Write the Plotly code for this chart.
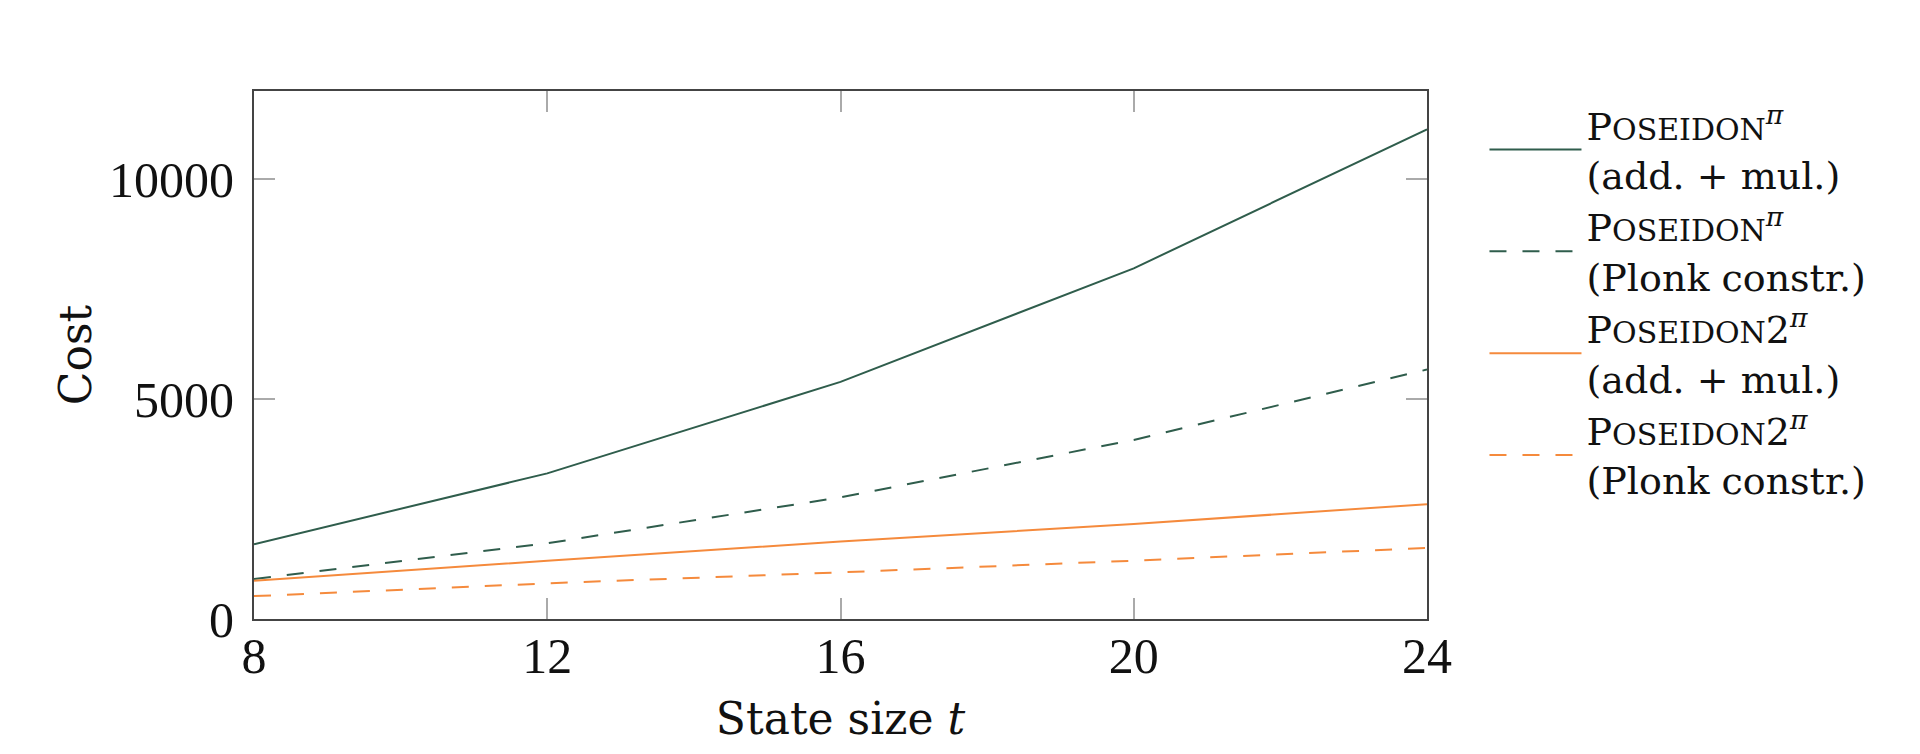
import plotly.graph_objects as go

t = [8, 12, 16, 20, 24]
pos_addmul = [1700, 3310, 5390, 7970, 11130]
pos_plonk = [910, 1720, 2765, 4070, 5670]
pos2_addmul = [870, 1325, 1760, 2160, 2610]
pos2_plonk = [520, 810, 1060, 1326, 1615]

x_ticks = [8, 12, 16, 20, 24]
y_ticks = [0, 5000, 10000]
y_labels = ["0", "5000", "10000"]

GREEN = "#2F5D4C"
ORANGE = "#F58A3C"
SC = "<span style='font-size:30px'>OSEIDON</span>"
names = [
    "P" + SC + "<sup><i>π</i></sup><br>(add. + mul.)",
    "P" + SC + "<sup><i>π</i></sup><br>(Plonk constr.)",
    "P" + SC + "2<sup><i>π</i></sup><br>(add. + mul.)",
    "P" + SC + "2<sup><i>π</i></sup><br>(Plonk constr.)",
]
series = [pos_addmul, pos_plonk, pos2_addmul, pos2_plonk]
colors = [GREEN, GREEN, ORANGE, ORANGE]
dashes = ["solid", "17px,16px", "solid", "17px,16px"]

fig = go.Figure()
for i in range(4):
    fig.add_trace(go.Scatter(
        x=t, y=series[i], mode="lines", name=names[i],
        line=dict(color=colors[i], width=2, dash=dashes[i]),
        legendgroup=str(i),
    ))

axis_common = dict(
    showline=True, linecolor="#444444", linewidth=2, mirror="ticks",
    ticks="inside", ticklen=21, tickwidth=2, tickcolor="#AAAAAA",
    showgrid=False, zeroline=False,
    tickfont=dict(family="Liberation Serif", size=50, color="#111111"),
)

fig.update_layout(
    width=1920, height=754,
    margin=dict(l=246, r=501, t=83, b=143),
    paper_bgcolor="white", plot_bgcolor="white",
    xaxis=dict(range=[8, 24], tickvals=x_ticks, ticktext=[str(v) for v in x_ticks],
               ticklabelstandoff=-8,
               title=dict(text="State size <i>t</i>", standoff=20,
                          font=dict(family="DejaVu Serif", size=44, color="#111111")),
               **axis_common),
    yaxis=dict(range=[0, 12000], tickvals=y_ticks, ticktext=y_labels,
               ticklabelstandoff=8,
               title=dict(text="Cost", standoff=4,
                          font=dict(family="DejaVu Serif", size=44, color="#111111")),
               **axis_common),
    legend=dict(x=1.049, y=0.995, xanchor="left", yanchor="top",
                font=dict(family="DejaVu Serif", size=38, color="#111111"),
                itemwidth=92, tracegroupgap=0, bgcolor="rgba(0,0,0,0)"),
    showlegend=True,
)

fig.write_html("out.html")
